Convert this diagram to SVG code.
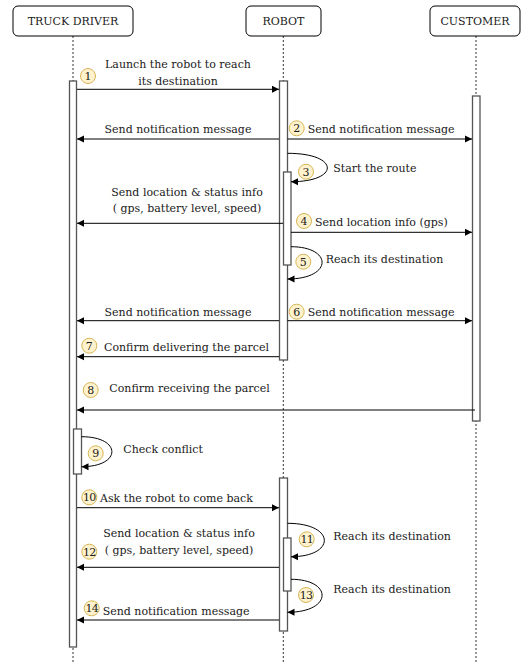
<svg xmlns="http://www.w3.org/2000/svg" width="521" height="662" viewBox="0 0 521 662">
<style>
text{font-family:"DejaVu Serif","Liberation Serif",serif;font-size:11px;fill:#1a1a1a}
.hd{text-anchor:middle}
.m{text-anchor:middle}
.life{stroke:#333;stroke-width:1;stroke-dasharray:2,2;fill:none}
.act{fill:#fff;stroke:#555;stroke-width:1.3}
.msg{stroke:#000;stroke-width:1;fill:none}
.box{fill:#fff;stroke:#000;stroke-width:1}
.n circle{fill:#fff2cc;stroke:#d6b656;stroke-width:1}
.n text{text-anchor:middle;font-size:11px}
</style>
<defs>
<marker id="a" markerWidth="8" markerHeight="8" refX="7" refY="4" orient="auto" markerUnits="userSpaceOnUse">
<path d="M0,0.5 L7,4 L0,7.5 Z" fill="#000"/>
</marker>
</defs>
<g id="lifelines">
<path class="life" d="M73,36V662"/>
<path class="life" d="M283.3,36V662"/>
<path class="life" d="M476,36V662"/>
</g>
<g id="truck"><rect class="box" x="13" y="6" width="120" height="30" rx="5"/><text class="hd" x="73" y="25">TRUCK DRIVER</text></g>
<g id="robot"><rect class="box" x="246" y="6" width="75" height="30" rx="5"/><text class="hd" x="283.5" y="25">ROBOT</text></g>
<g id="customer"><rect class="box" x="430" y="6" width="90" height="30" rx="5"/><text class="hd" x="475" y="25">CUSTOMER</text></g>
<g id="activations">
<rect class="act" x="69.5" y="81" width="7" height="566"/>
<rect class="act" x="279.5" y="81" width="8" height="279"/>
<rect class="act" x="472.5" y="96" width="7.5" height="325"/>
<rect class="act" x="283.5" y="172" width="7.5" height="93"/>
<rect class="act" x="73.5" y="429" width="8" height="45"/>
<rect class="act" x="279.5" y="478" width="8" height="153"/>
<rect class="act" x="283.5" y="538" width="7.5" height="53"/>
</g>
<g id="connectors">
<path class="msg" d="M77,89.3H279" marker-end="url(#a)"/>
<path class="msg" d="M279,139H77" marker-end="url(#a)"/>
<path class="msg" d="M287.5,139H472" marker-end="url(#a)"/>
<path class="msg" d="M287.5,153.3C340,153.3 340,181.7 291,181.7" marker-end="url(#a)"/>
<path class="msg" d="M283,223.3H77" marker-end="url(#a)"/>
<path class="msg" d="M291,232.3H472" marker-end="url(#a)"/>
<path class="msg" d="M291,246.7C333,246.7 333,279 287.5,279" marker-end="url(#a)"/>
<path class="msg" d="M279,320.7H77" marker-end="url(#a)"/>
<path class="msg" d="M287.5,320.7H472" marker-end="url(#a)"/>
<path class="msg" d="M279,356.7H77" marker-end="url(#a)"/>
<path class="msg" d="M475,410H77" marker-end="url(#a)"/>
<path class="msg" d="M81.5,436.7C122,436.7 122,466.7 81.5,466.7" marker-end="url(#a)"/>
<path class="msg" d="M77,507.7H279" marker-end="url(#a)"/>
<path class="msg" d="M287.5,523.3C336,523.3 336,556.7 291,556.7" marker-end="url(#a)"/>
<path class="msg" d="M279,567.3H77" marker-end="url(#a)"/>
<path class="msg" d="M291,579.3C333,579.3 333,612.3 287.5,612.3" marker-end="url(#a)"/>
<path class="msg" d="M279,620H77" marker-end="url(#a)"/>
</g>
<g id="labels">
<text class="m" x="178" y="68">Launch the robot to reach</text>
<text class="m" x="178" y="84.5">its destination</text>
<text class="m" x="178" y="133">Send notification message</text>
<text x="307.7" y="133">Send notification message</text>
<text x="333.3" y="172">Start the route</text>
<text class="m" x="187" y="195.5">Send location &amp; status info</text>
<text class="m" x="187" y="212">( gps, battery level, speed)</text>
<text x="315" y="226">Send location info (gps)</text>
<text x="325.7" y="263">Reach its destination</text>
<text class="m" x="178" y="315.5">Send notification message</text>
<text x="307.7" y="315.5">Send notification message</text>
<text x="104" y="351">Confirm delivering the parcel</text>
<text x="109.3" y="392">Confirm receiving the parcel</text>
<text x="123.3" y="453">Check conflict</text>
<text x="100" y="502">Ask the robot to come back</text>
<text x="333.3" y="540">Reach its destination</text>
<text class="m" x="179" y="537">Send location &amp; status info</text>
<text class="m" x="179" y="554">( gps, battery level, speed)</text>
<text x="333.3" y="593">Reach its destination</text>
<text x="102.7" y="615">Send notification message</text>
</g>
<g id="numbers" class="n">
<g><circle cx="88" cy="76" r="7.5"/><text x="88" y="80">1</text></g>
<g><circle cx="296.7" cy="128.3" r="7.5"/><text x="296.7" y="132.3">2</text></g>
<g><circle cx="306" cy="171.7" r="7.5"/><text x="306" y="175.7">3</text></g>
<g><circle cx="304" cy="221" r="7.5"/><text x="304" y="225">4</text></g>
<g><circle cx="303.3" cy="261.7" r="7.5"/><text x="303.3" y="265.7">5</text></g>
<g><circle cx="296.7" cy="311.7" r="7.5"/><text x="296.7" y="315.7">6</text></g>
<g><circle cx="89.3" cy="345.7" r="7.5"/><text x="89.3" y="349.7">7</text></g>
<g><circle cx="90.7" cy="390" r="7.5"/><text x="90.7" y="394">8</text></g>
<g><circle cx="95.7" cy="453.3" r="7.5"/><text x="95.7" y="457.3">9</text></g>
<g><circle cx="89.3" cy="497.3" r="7.5"/><text x="89.3" y="501.3" letter-spacing="-0.8">10</text></g>
<g><circle cx="306.7" cy="539.3" r="7.5"/><text x="306.7" y="543.3" letter-spacing="-0.8">11</text></g>
<g><circle cx="89.3" cy="551.7" r="7.5"/><text x="89.3" y="555.7" letter-spacing="-0.8">12</text></g>
<g><circle cx="306" cy="595" r="7.5"/><text x="306" y="599" letter-spacing="-0.8">13</text></g>
<g><circle cx="91.7" cy="608.3" r="7.5"/><text x="91.7" y="612.3" letter-spacing="-0.8">14</text></g>
</g>
</svg>
